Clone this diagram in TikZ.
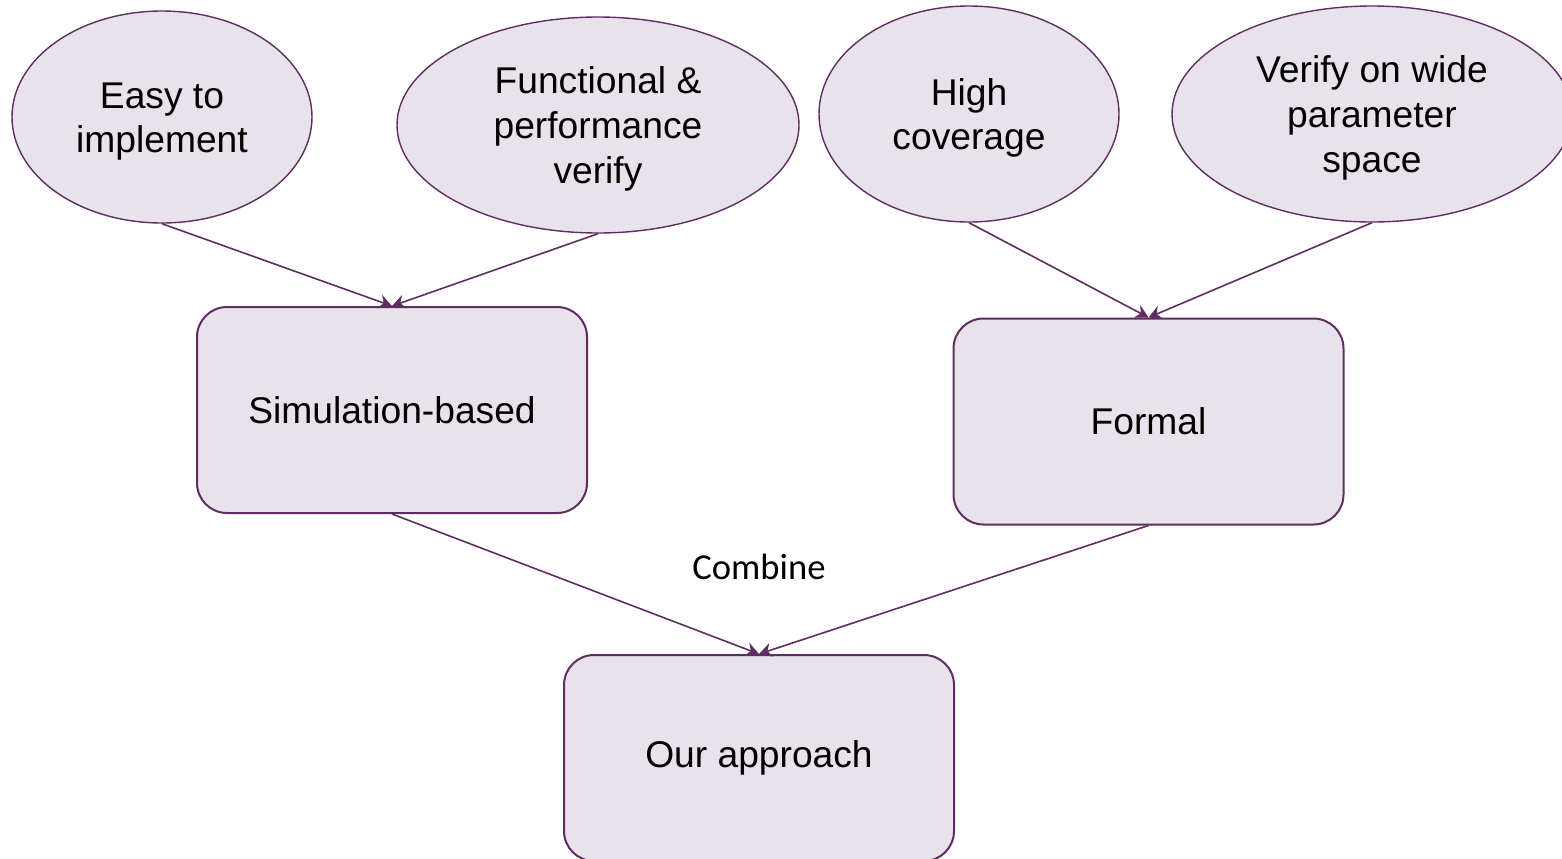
\documentclass[tikz,border=0pt]{standalone}
\usepackage{fontspec}
\setmainfont{Liberation Sans}
\newfontfamily\labelfont{Carlito}
\usetikzlibrary{shapes.geometric,arrows.meta}
\definecolor{plum}{HTML}{5F2D62}
\definecolor{lilac}{HTML}{E8E3EA}
% centred stack of lines, set a little lower inside its shape
\newcommand{\lines}[1]{\raisebox{-2.3pt}[\height][\depth]{\begin{tabular}{@{}c@{}}#1\end{tabular}}}
\begin{document}
\begin{tikzpicture}[x=0.5pt,y=-0.5pt,
  bubble/.style={ellipse,draw=plum,fill=lilac,line width=0.7pt,inner sep=0pt,
    font=\fontsize{18.6}{22.3}\selectfont},
  stage/.style={rectangle,rounded corners=15pt,draw=plum,fill=lilac,line width=1pt,
    inner sep=0pt,minimum width=195pt,minimum height=103pt,
    align=center,font=\fontsize{18.6}{22.3}\selectfont},
  flow/.style={draw=plum,line width=0.8pt,-{Stealth[length=6.5pt,width=7pt]}}]
\useasboundingbox (0,0) rectangle (1562,858);

% advantages of each method
\node[bubble,minimum width=150pt,minimum height=106pt] (easy) at (162,117) {\lines{Easy to\\implement}};
\node[bubble,minimum width=201pt,minimum height=108pt] (func) at (598,125) {\lines{Functional \&\\performance\\verify}};
\node[bubble,minimum width=150pt,minimum height=108pt] (cov) at (969,114) {\lines{High\\coverage}};
\node[bubble,minimum width=200pt,minimum height=108pt] (wide) at (1372,114) {\lines{Verify on wide\\parameter\\space}};

% verification methods
\node[stage] (sim) at (392,410) {Simulation-based};
\node[stage] (formal) at (1148.5,421.5) {Formal};
\node[stage] (ours) at (759,758) {Our approach};

\node[font=\labelfont\fontsize{18.3}{22}\selectfont] (comb) at (759,567) {Combine};

% connectors
\draw[flow] (easy.south) -- (sim.north);
\draw[flow] (func.south) -- (sim.north);
\draw[flow] (cov.south) -- (formal.north);
\draw[flow] (wide.south) -- (formal.north);
\draw[flow] (sim.south) -- (ours.north);
\draw[flow] (formal.south) -- (ours.north);
\end{tikzpicture}
\end{document}
